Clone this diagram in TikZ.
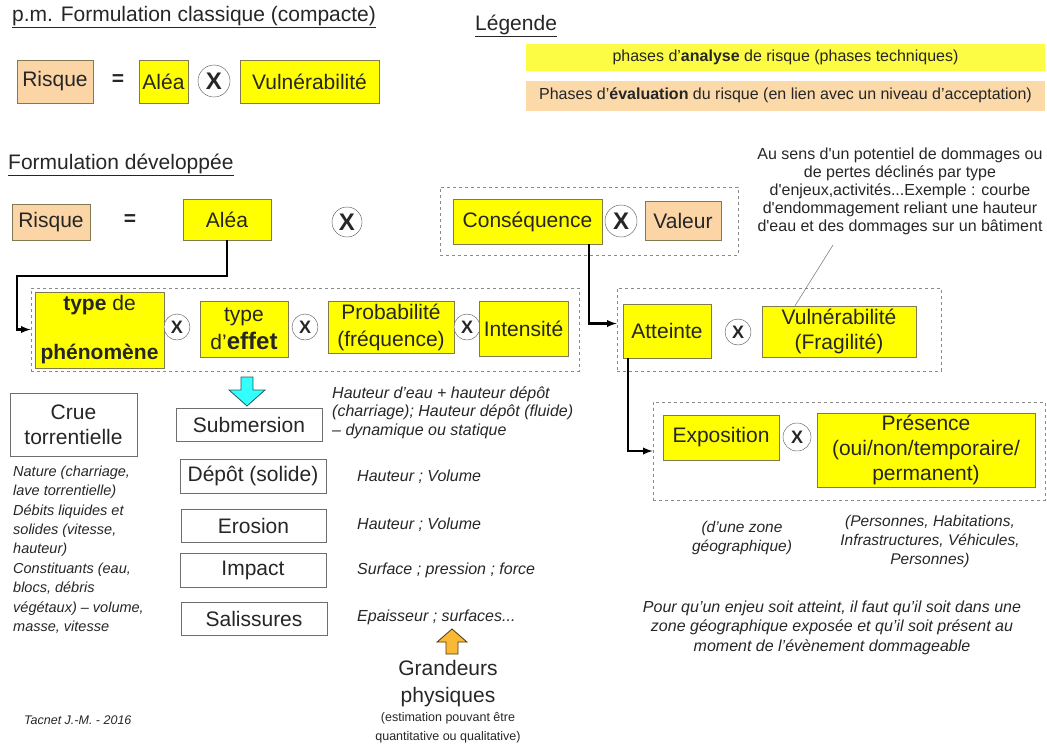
\documentclass[tikz,border=0pt]{standalone}
\usepackage{fontspec}
\setmainfont{Liberation Sans}
\usetikzlibrary{fit,calc}

\definecolor{boxyellow}{HTML}{FFFF00}
\definecolor{boxpeach}{HTML}{FBD5A5}
\definecolor{legyellow}{HTML}{FCFC45}
\definecolor{legpeach}{HTML}{FCD9A9}
\definecolor{boxedge}{HTML}{7F7A50}
\definecolor{plainedge}{HTML}{6E6E6E}
\definecolor{groupgray}{HTML}{8A8A8A}
\definecolor{circedge}{HTML}{505050}
\definecolor{arrowcyan}{HTML}{33FFFF}
\definecolor{cyanedge}{HTML}{2A5A5A}
\definecolor{arroworange}{HTML}{F9B935}
\definecolor{orangeedge}{HTML}{4A3A10}
\definecolor{textgray}{HTML}{262626}

\begin{document}
\begin{tikzpicture}[x=1pt,y=-1pt,text=textgray]
\tikzstyle{yel}=[rectangle, draw=boxedge, fill=boxyellow, inner sep=0pt, align=center, font=\fontsize{21}{25}\selectfont]
\tikzstyle{peach}=[yel, fill=boxpeach]
\tikzstyle{plain}=[yel, draw=plainedge, fill=white]
\tikzstyle{times}=[circle, draw=circedge, fill=white, inner sep=0pt, minimum size=26pt, font=\bfseries\fontsize{18}{18}\selectfont]
\tikzstyle{group}=[rectangle, draw=groupgray, dashed, line width=0.8pt, inner sep=0pt]
\tikzstyle{connect}=[-latex, line width=2.2pt, draw=black]
\tikzstyle{remark}=[inner sep=0pt, align=left, font=\itshape\fontsize{16}{18.5}\selectfont]
\tikzstyle{heading}=[inner sep=0pt, anchor=west, font=\fontsize{21}{25}\selectfont]
\tikzstyle{bigx}=[times, font=\bfseries\fontsize{24}{24}\selectfont]
  \useasboundingbox (0,0) rectangle (1047,745);
  % compact formulation
  \node[heading] (title1) at (12,17) {\underline{p.m. Formulation classique (compacte)}};
  \node[peach, minimum width=76pt, minimum height=43pt] (risk1) at (55,81.5) {Risque};
  \node[font=\bfseries\fontsize{21}{21}\selectfont] (eq1) at (118,80) {=};
  \node[yel, minimum width=49pt, minimum height=43pt] (alea1) at (163.5,81.5) {Aléa};
  \node[bigx, minimum size=32pt] (x1) at (214,81) {X};
  \node[yel, minimum width=139pt, minimum height=43pt] (vuln1) at (309.5,81.5) {Vulnérabilité};
  % legend
  \node[heading] (legend) at (475,26) {\underline{Légende}};
  \node[fill=legyellow, minimum width=519pt, minimum height=27pt, inner sep=0pt, font=\fontsize{16}{16}\selectfont] (legA) at (785.5,57) {phases d'\textbf{analyse} de risque (phases techniques)};
  \node[fill=legpeach, minimum width=519pt, minimum height=30pt, inner sep=0pt, font=\fontsize{16}{16}\selectfont] (legB) at (785.5,95.5) {Phases d'\textbf{évaluation} du risque (en lien avec un niveau d'acceptation)};
  % developed formulation
  \node[heading] (title2) at (8,165) {\underline{Formulation développée}};
  \node[peach, minimum width=78pt, minimum height=36pt] (risk2) at (51,222) {Risque};
  \node[font=\bfseries\fontsize{21}{21}\selectfont] (eq2) at (130,220) {=};
  \node[yel, minimum width=88pt, minimum height=41pt] (alea2) at (227,219.5) {Aléa};
  \node[bigx, minimum size=30pt] (x2) at (347,222) {X};
  \node[yel, minimum width=149pt, minimum height=45pt] (cons) at (527.5,221.5) {Conséquence};
  \node[bigx, minimum size=32pt] (x3) at (621,221) {X};
  \node[peach, minimum width=76pt, minimum height=39pt] (val) at (683,220.5) {Valeur};
  \node[group, fit={(440,187) (738,255)}] (consgrp) {};
  % note
  \node[inner sep=0pt, align=center, font=\fontsize{16}{18}\selectfont] (note) at (900,191) {Au sens d\textquotesingle un potentiel de dommages ou\\de pertes déclinés par type\\d\textquotesingle enjeux,activités...Exemple : courbe\\d\textquotesingle endommagement reliant une hauteur\\d\textquotesingle eau et des dommages sur un bâtiment};
  \coordinate (noteTip) at (833,245);
  % hazard chain
  \node[yel, minimum width=129pt, minimum height=76pt] (phen) at (99.5,330) {\textbf{type} de\\[24pt]\textbf{phénomène}};
  \node[times] (x4) at (177,327) {X};
  \node[yel, minimum width=88pt, minimum height=56pt] (eff) at (244,329) {type\\[3pt]d'{\bfseries\fontsize{24}{25}\selectfont effet}};
  \node[times] (x5) at (305,327) {X};
  \node[yel, minimum width=126pt, minimum height=52pt] (prob) at (391,327) {Probabilité\\[2pt](fréquence)};
  \node[times] (x6) at (467,327) {X};
  \node[yel, minimum width=89pt, minimum height=55pt] (inten) at (523.5,328.5) {Intensité};
  \node[group, fit={(31,288) (579,371)}] (chain) {};
  % consequence chain
  \node[yel, minimum width=88pt, minimum height=54pt] (att) at (667,331) {Atteinte};
  \node[times] (x7) at (738,332) {X};
  \node[yel, minimum width=154pt, minimum height=51pt] (vulnF) at (839,331.5) {Vulnérabilité\\(Fragilité)};
  \node[group, fit={(617,288) (941,371)}] (reach) {};
  % exposure
  \node[yel, minimum width=116pt, minimum height=45pt] (expo) at (721,437.5) {Exposition};
  \node[times, minimum size=28pt] (x8) at (797,437) {X};
  \node[yel, minimum width=218pt, minimum height=74pt] (pres) at (926,450) {Présence\\(oui/non/temporaire/\\permanent)};
  \node[group, fit={(653,402) (1045,500)}] (expgrp) {};
  % links
  \coordinate (bendA) at (17,276);
  \draw[connect] (alea2.south) |- (bendA) |- (chain.west);
  \draw[connect] ([xshift=-13pt]cons.south east) |- ([yshift=6pt]reach.west);
  \draw[connect] ([xshift=5pt]att.south west) |- (expgrp.west);
  \draw[draw=gray, line width=0.6pt] ([xshift=-44pt]vulnF.north) -- (noteTip);
  % effect arrow
  \draw[draw=cyanedge, fill=arrowcyan, line width=0.8pt] (241,377) -- (253,377) -- (253,390) -- (265,390) -- (247,406) -- (229,390) -- (241,390) -- cycle;
  % phenomenon
  \node[plain, minimum width=127pt, minimum height=63pt] (crue) at (73.5,424.5) {Crue\\torrentielle};
  \node[remark, anchor=west, font=\itshape\fontsize{14.5}{19.4}\selectfont] (crueinfo) at (13,549.5) {Nature (charriage,\\lave torrentielle)\\Débits liquides et\\solides (vitesse,\\hauteur)\\Constituants (eau,\\blocs, débris\\végétaux) -- volume,\\masse, vitesse};
  % effects
  \node[plain, minimum width=146pt, minimum height=33pt] (subm) at (249,424.5) {Submersion};
  \node[plain, minimum width=146pt, minimum height=34pt] (depot) at (253,476) {Dépôt (solide)};
  \node[plain, minimum width=145pt, minimum height=33pt] (eros) at (253.5,525.5) {Erosion};
  \node[plain, minimum width=146pt, minimum height=34pt] (impact) at (253,570) {Impact};
  \node[plain, minimum width=146pt, minimum height=33pt] (saliss) at (254,618.5) {Salissures};
  % quantities
  \node[remark, anchor=west] (qsubm) at (332,412.5) {Hauteur d'eau + hauteur dépôt\\(charriage); Hauteur dépôt (fluide)\\-- dynamique ou statique};
  \node[remark, anchor=west] (qdepot) at (357,477) {Hauteur ; Volume};
  \node[remark, anchor=west] (qeros) at (357,525) {Hauteur ; Volume};
  \node[remark, anchor=west] (qimpact) at (357,570) {Surface ; pression ; force};
  \node[remark, anchor=west] (qsaliss) at (357,617) {Epaisseur ; surfaces...};
  % quantity arrow
  \draw[draw=orangeedge, fill=arroworange, line width=0.8pt] (452,629) -- (467,642) -- (458,642) -- (458,654) -- (446,654) -- (446,642) -- (437,642) -- cycle;
  \node[inner sep=0pt, align=center, font=\fontsize{21}{27}\selectfont] (grand) at (448,683.5) {Grandeurs\\physiques};
  \node[inner sep=0pt, align=center, font=\fontsize{12.5}{19}\selectfont] (estim) at (448,727.5) {(estimation pouvant être\\quantitative ou qualitative)};
  % exposure notes
  \node[remark, align=center, font=\itshape\fontsize{15.5}{19}\selectfont] (zone) at (742,537.5) {(d'une zone\\géographique)};
  \node[remark, align=center, font=\itshape\fontsize{15.5}{19}\selectfont] (pers) at (930,541) {(Personnes, Habitations,\\Infrastructures, Véhicules,\\Personnes)};
  \node[remark, align=center, font=\itshape\fontsize{16}{19.5}\selectfont] (pour) at (832,627.5) {Pour qu'un enjeu soit atteint, il faut qu'il soit dans une\\zone géographique exposée et qu'il soit présent au\\moment de l'évènement dommageable};
  % author
  \node[inner sep=0pt, anchor=west, font=\itshape\fontsize{12.5}{15}\selectfont] (author) at (24,720) {Tacnet J.-M. - 2016};
\end{tikzpicture}
\end{document}
